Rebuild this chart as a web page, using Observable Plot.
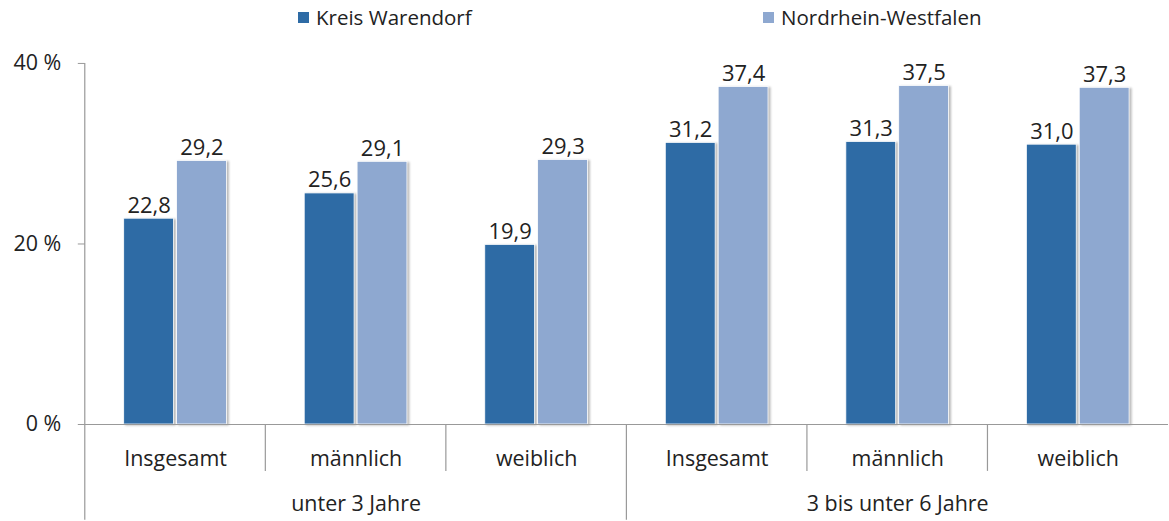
<!DOCTYPE html>
<html>
<head>
<meta charset="utf-8">
<script src="https://cdn.jsdelivr.net/npm/d3@7"></script>
<script src="https://cdn.jsdelivr.net/npm/@observablehq/plot@0.6"></script>
<style>
  html, body { margin: 0; padding: 0; background: #fff; overflow: hidden; }
  body { width: 1169px; height: 521px; position: relative; font-family: "Open Sans", sans-serif; color: #222; }
  #legend { position: relative; height: 40px; }
  .item { position: absolute; top: 3px; font-size: 20.5px; display: flex; align-items: center; white-space: nowrap; }
  .sw { width: 11px; height: 11px; margin-right: 7px; display: inline-block; }
  #chart svg { overflow: visible; }
  .bars rect { filter: drop-shadow(2px 1px 1.2px rgba(0,0,0,0.28)); }
</style>
</head>
<body>
<div id="legend"></div>
<div id="chart"></div>
<script>
// ---- data ----
const categories = ["Insgesamt", "männlich", "weiblich", "Insgesamt", "männlich", "weiblich"];
const categoryGroup = [0, 0, 0, 1, 1, 1];
const groupNames = ["unter 3 Jahre", "3 bis unter 6 Jahre"];
const seriesNames = ["Kreis Warendorf", "Nordrhein-Westfalen"];
const kreisWarendorf = [22.8, 25.6, 19.9, 31.2, 31.3, 31.0];
const nordrheinWestfalen = [29.2, 29.1, 29.3, 37.4, 37.5, 37.3];
const yTicks = [0, 20, 40];
const colors = ["#2E6BA5", "#8EA8D0"];

// ---- table ----
const rows = [];
categories.forEach((c, i) => {
  rows.push({cat: i, series: seriesNames[0], value: kreisWarendorf[i]});
  rows.push({cat: i, series: seriesNames[1], value: nordrheinWestfalen[i]});
});
const fmt = v => d3.format(".1f")(v).replace(".", ",");

// ---- legend ----
const legend = document.getElementById("legend");
const legendX = [298, 763];
seriesNames.forEach((s, i) => {
  const d = document.createElement("div");
  d.className = "item";
  d.style.left = legendX[i] + "px";
  d.innerHTML = `<span class="sw" style="background:${colors[i]}"></span><span>${s}</span>`;
  legend.appendChild(d);
});

const groupLabelRows = groupNames.map((g, gi) => ({cat: categories.findIndex((c, i) => categoryGroup[i] === gi) + 1, label: g}));

const plot = Plot.plot({
  width: 1172,
  height: 481,
  marginLeft: 83,
  marginRight: 0,
  marginTop: 23,
  marginBottom: 96,
  style: {fontFamily: "'Open Sans', sans-serif", fontSize: "21px", color: "#222", background: "transparent"},
  fx: {domain: d3.range(categories.length), padding: 0, axis: null},
  x: {domain: seriesNames, paddingInner: 0.057, paddingOuter: 0.72, axis: null},
  y: {domain: [0, 40], axis: null},
  color: {domain: seriesNames, range: colors},
  marks: [
    Plot.axisY({ticks: yTicks, tickFormat: d => d + " %", tickSize: 7, tickPadding: 17, fontSize: 21.5, stroke: "#999", fill: "#222", label: null, facetAnchor: "left", anchor: "left"}),
    Plot.barY(rows, {fx: "cat", x: "series", y: "value", fill: "series", stroke: "white", strokeWidth: 0.8, className: "bars"}),
    Plot.text(rows, {fx: "cat", x: "series", y: "value", text: d => fmt(d.value), lineAnchor: "bottom", dy: -6, fontSize: 22, fill: "#222"}),
    Plot.ruleY([0], {stroke: "#999", strokeWidth: 1.2}),
    Plot.text(categories.map((c, i) => ({cat: i, label: c})), {fx: "cat", text: "label", frameAnchor: "bottom", dy: 42, fontSize: 21.5, fill: "#222"}),
    Plot.text(groupLabelRows, {fx: "cat", text: "label", frameAnchor: "bottom", dy: 87, fontSize: 21.5, fill: "#222"})
  ]
});
document.getElementById("chart").appendChild(plot);

// separators derived from the fx scale
const fx = plot.scale("fx");
const y = plot.scale("y");
const svg = d3.select(plot);
const y0 = y.apply(0);
const y40 = y.apply(40);
const bottom = 481;
const g = svg.append("g").attr("stroke", "#999").attr("stroke-width", 1.2);
const left = fx.apply(0);
g.append("line").attr("x1", left).attr("x2", left).attr("y1", y40).attr("y2", bottom);
categories.forEach((c, i) => {
  if (i === 0) return;
  const xx = fx.apply(i);
  const isGroupStart = categoryGroup[i] !== categoryGroup[i - 1];
  g.append("line").attr("x1", xx).attr("x2", xx).attr("y1", y0).attr("y2", isGroupStart ? bottom : y0 + 47);
});
</script>
</body>
</html>
